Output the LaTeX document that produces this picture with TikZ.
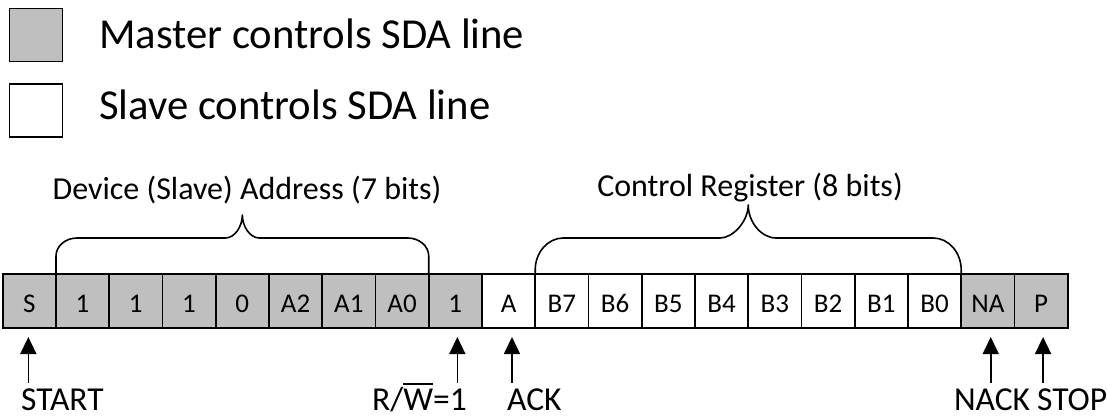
\documentclass[tikz,border=0pt]{standalone}
\usepackage{fontspec}
\setmainfont{Carlito}
\usetikzlibrary{arrows.meta,calc}
\definecolor{mgray}{RGB}{191,191,191}
\newcommand{\ovW}{\leavevmode\setbox0\hbox{W}\rlap{\rule[0.76em]{\wd0}{0.065em}}\box0}
\begin{document}
\begin{tikzpicture}[x=1pt,y=-1pt,
  cell/.style={draw, line width=1.6pt, minimum width=53.25pt, minimum height=54pt,
    inner sep=0pt, outer sep=0pt, text height=22pt, text depth=0pt,
    font=\fontsize{27}{32}\selectfont},
  m cell/.style={cell, fill=mgray},
  s cell/.style={cell, fill=white},
  legbox/.style={draw, line width=1.6pt, minimum size=53pt, inner sep=0pt},
  legtext/.style={anchor=base west, inner sep=0pt, font=\fontsize{42.7}{50}\selectfont},
  lbl/.style={inner sep=0pt, font=\fontsize{32}{38}\selectfont},
  blbl/.style={inner sep=0pt, font=\fontsize{33.5}{40}\selectfont},
  arr/.style={line width=1.6pt, -{Triangle[width=16pt,length=17pt]}, shorten >=9pt},
  bracepath/.style={line width=1.6pt, line join=round}]
\useasboundingbox (0,0) rectangle (1107,417);

% legend
\node[legbox, fill=mgray] (lm) at (36,35) {};
\node[legbox, fill=white] (ls) at (36,110.5) {};
\node[legtext] (tm) at (99,49) {Master controls SDA line};
\node[legtext] (ts) at (99,120) {Slave controls SDA line};

% cells
\foreach \t/\k [count=\i] in {S/m,1/m,1/m,1/m,0/m,A2/m,A1/m,A0/m,1/m,A/s,B7/s,B6/s,B5/s,B4/s,B3/s,B2/s,B1/s,B0/s,NA/m,P/m}
  \node[\k\space cell] (c\i) at ({2.7+53.25*(\i-0.5)},301) {\t};

% brace labels
\node[lbl, anchor=base] (dev) at (247,199) {Device (Slave) Address (7 bits)};
\node[lbl, anchor=base] (ctl) at (750,196) {Control Register (8 bits)};

% braces
\draw[bracepath] (56,274) -- (56,256) .. controls (56,246.1) and (65.45,238) .. (77,238)
  -- (225.35,238) .. controls (234.7,238) and (242.35,226.5) .. (242.35,215)
  .. controls (242.35,226.5) and (250,238) .. (259.35,238)
  -- (407.7,238) .. controls (419.25,238) and (428.7,246.1) .. (428.7,256) -- (428.7,274);
\draw[bracepath] (535.2,274) -- (535.2,270) .. controls (535.2,252.4) and (547.8,238) .. (563.2,238)
  -- (720.2,238) .. controls (732.8,238) and (748.2,221.5) .. (748.2,205)
  .. controls (748.2,221.5) and (760.8,238) .. (776.2,238)
  -- (933.2,238) .. controls (948.6,238) and (961.2,252.4) .. (961.2,270) -- (961.2,274);

% arrows
\coordinate (fS) at ($(c1.south)+(-1,55)$);
\coordinate (fR) at ($(c9.south)+(2,55)$);
\coordinate (fA) at ($(c10.south)+(3.4,55)$);
\coordinate (fN) at ($(c19.south)+(2.9,55)$);
\coordinate (fP) at ($(c20.south)+(2,55)$);
\draw[arr] (fS) -- (fS |- c1.south);
\draw[arr] (fR) -- (fR |- c9.south);
\draw[arr] (fA) -- (fA |- c10.south);
\draw[arr] (fN) -- (fN |- c19.south);
\draw[arr] (fP) -- (fP |- c20.south);

% arrow labels
\node[blbl, anchor=base west] (start) at (21,410.5) {START};
\node[blbl, anchor=base east] (rw) at (467,410.5) {R/\ovW=1};
\node[blbl, anchor=base west] (ack) at (507,410.5) {ACK};
\node[blbl, anchor=base] (nack) at (992,410.5) {NACK};
\node[blbl, anchor=base west] (stop) at (1037,410.5) {STOP};
\end{tikzpicture}
\end{document}
